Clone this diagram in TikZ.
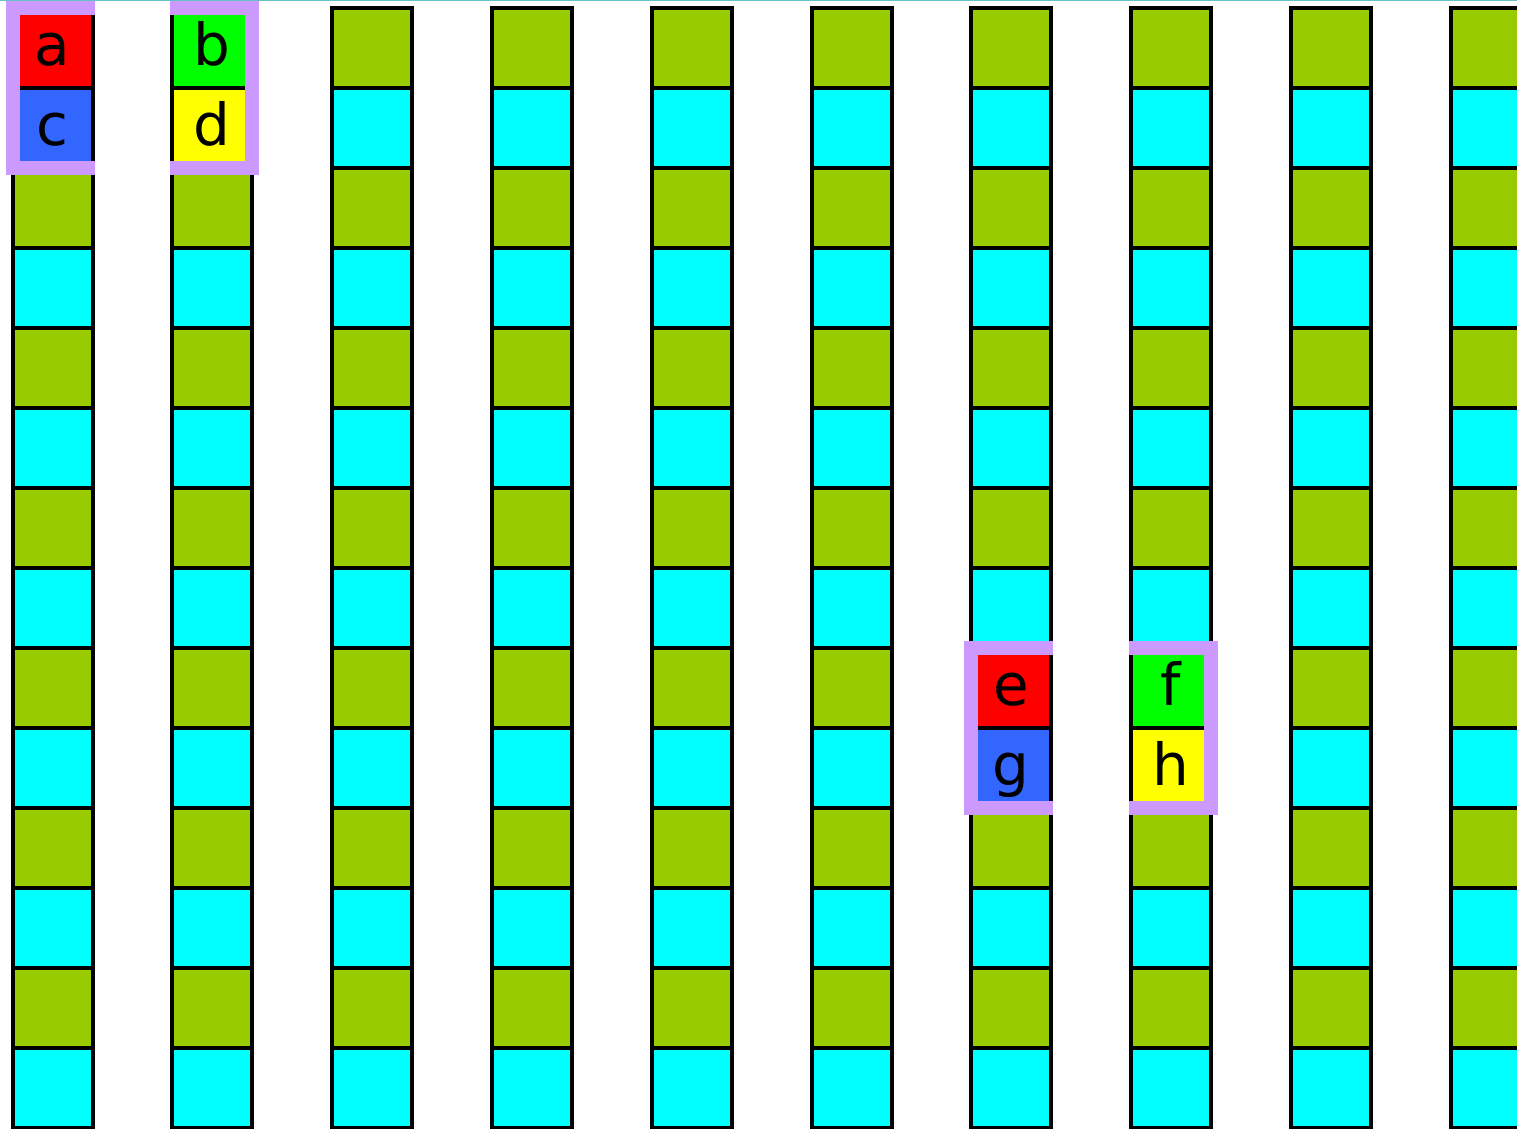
\documentclass[tikz,border=0pt]{standalone}
\usepackage{fontspec}
\setmainfont{DejaVu Sans}
\definecolor{cellolive}{RGB}{153,204,0}
\definecolor{cellcyan}{RGB}{0,255,255}
\definecolor{cellred}{RGB}{255,0,0}
\definecolor{cellblue}{RGB}{51,102,255}
\definecolor{cellgreen}{RGB}{0,255,0}
\definecolor{cellyellow}{RGB}{255,255,0}
\definecolor{pairlilac}{RGB}{204,153,255}
\definecolor{edgeteal}{RGB}{102,194,194}

\begin{document}
\begin{tikzpicture}[x=1pt,y=-1pt,
    cell/.style={draw=black,line width=4pt,minimum size=80pt,inner sep=0pt,
                 outer sep=0pt,text height=40pt,text depth=5pt,
                 font=\fontsize{58}{60}\selectfont},
    pairframe/.style={draw=pairlilac,line width=14pt,line join=miter}]
    \useasboundingbox (0,0) rectangle (1517,1128);
    \clip (0,0) rectangle (1517,1128);
    \draw[edgeteal,line width=1pt] (0,0.5)--(1517,0.5);
    \foreach \i in {0,...,9}
      \foreach \j in {0,2,...,12} {
        \pgfmathtruncatemacro\jj{\j+1}
        \node[cell,fill=cellolive] (k\i-\j) at (52.5+159.8*\i,47.5+80*\j) {};
        \node[cell,fill=cellcyan] (k\i-\jj) at (52.5+159.8*\i,127.5+80*\j) {};
      }
    \node[cell,fill=cellred]    (a) at (k0-0) {a};
    \node[cell,fill=cellblue]   (c) at (k0-1) {c};
    \node[cell,fill=cellgreen]  (b) at (k1-0) {b};
    \node[cell,fill=cellyellow] (d) at (k1-1) {d};
    \node[cell,fill=cellred]    (e) at (k6-8) {e};
    \node[cell,fill=cellblue]   (g) at (k6-9) {g};
    \node[cell,fill=cellgreen]  (f) at (k7-8) {f};
    \node[cell,fill=cellyellow] (h) at (k7-9) {h};
    \draw[pairframe] ([xshift=2pt]a.north east)--(a.north west)
                     --(c.south west)--([xshift=2pt]c.south east);
    \draw[pairframe] ([xshift=-2pt]b.north west)--(b.north east)
                     --(d.south east)--([xshift=-2pt]d.south west);
    \draw[pairframe] ([xshift=2pt]e.north east)--(e.north west)
                     --(g.south west)--([xshift=2pt]g.south east);
    \draw[pairframe] ([xshift=-2pt]f.north west)--(f.north east)
                     --(h.south east)--([xshift=-2pt]h.south west);
  \end{tikzpicture}
\end{document}
